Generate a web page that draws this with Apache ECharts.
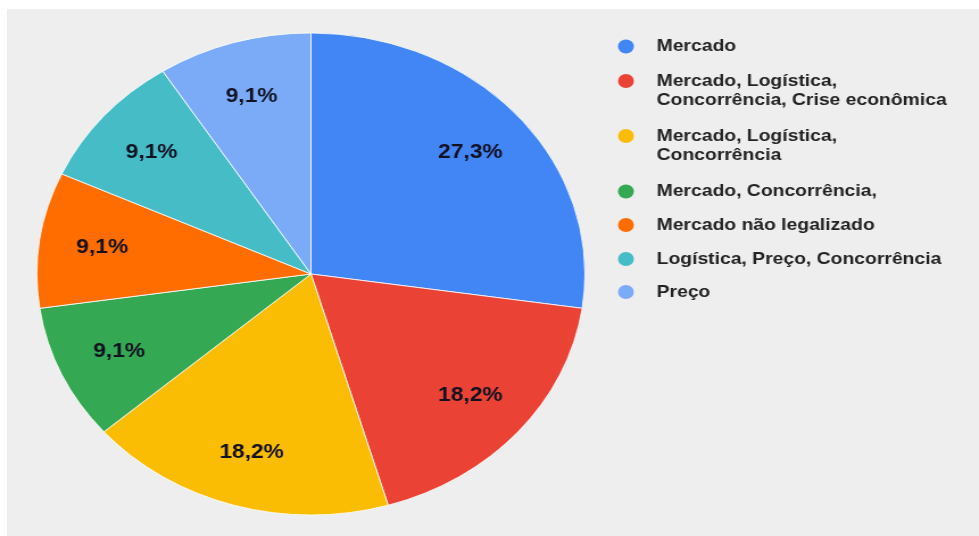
<!DOCTYPE html>
<html><head><meta charset="utf-8">
<script src="https://cdn.jsdelivr.net/npm/echarts@6/dist/echarts.min.js"></script>
<style>
html,body{margin:0;padding:0;background:#ffffff;width:979px;height:536px;overflow:hidden;}
#bg{position:absolute;left:7px;top:9px;width:972px;height:527px;background:#eeeeee;}
#chart{position:absolute;left:0;top:0;width:861px;height:536px;transform:scaleX(1.137);transform-origin:0 0;}
</style></head>
<body><div id="bg"></div><div id="chart"></div>
<script>
const categories = [
  'Mercado',
  'Mercado, Logística,\nConcorrência, Crise econômica',
  'Mercado, Logística,\nConcorrência',
  'Mercado, Concorrência,',
  'Mercado não legalizado',
  'Logística, Preço, Concorrência',
  'Preço'
];
const values = [3, 2, 2, 1, 1, 1, 1];
const colors = ['#4285F4', '#EA4335', '#FBBC04', '#34A853', '#FF6D01', '#46BDC6', '#7BAAF7'];
const legendCenters = [46.5, 81, 136, 191.5, 225, 259, 292];

const chart = echarts.init(document.getElementById('chart'), null, {renderer: 'canvas'});
const pieData = categories.map((c, i) => ({name: c, value: values[i], itemStyle: {color: colors[i]}}));
const labelData = categories.map((c, i) => ({name: c, value: values[i]}));

const ICON = 14, LINE_H = 19;
const legends = categories.map((c, i) => {
  const twoLines = c.indexOf('\n') >= 0;
  const nLines = twoLines ? 3 : 1;
  const blockH = Math.max(ICON, nLines * LINE_H);
  return {
    left: 543.5,
    top: legendCenters[i] - blockH / 2,
    padding: 0,
    orient: 'vertical',
    icon: 'circle',
    itemWidth: ICON,
    itemHeight: ICON,
    itemStyle: {borderWidth: 0},
    selectedMode: false,
    data: [c],
    formatter: name => (twoLines ? '\n' + name : name),
    textStyle: {
      fontFamily: 'Liberation Sans, Arial, sans-serif',
      fontWeight: 'bold',
      fontSize: 17,
      color: '#222222',
      lineHeight: LINE_H,
      padding: [0, 0, 0, 15]
    }
  };
});

chart.setOption({
  animation: false,
  backgroundColor: 'transparent',
  legend: legends,
  series: [
    {
      type: 'pie',
      center: [273.5, 274],
      radius: [0, 241],
      startAngle: 90,
      clockwise: true,
      silent: true,
      label: {show: false},
      labelLine: {show: false},
      itemStyle: {borderColor: '#ffffff', borderWidth: 0.8},
      data: pieData
    },
    {
      type: 'pie',
      center: [273.5, 274],
      radius: [124, 241],
      startAngle: 90,
      clockwise: true,
      silent: true,
      itemStyle: {color: 'rgba(0,0,0,0)'},
      labelLine: {show: false},
      label: {
        show: true,
        position: 'inside',
        fontFamily: 'Liberation Sans, Arial, sans-serif',
        fontWeight: 'bold',
        fontSize: 20,
        color: '#111122',
        formatter: p => p.percent.toFixed(1).replace('.', ',') + '%'
      },
      data: labelData
    }
  ]
});
</script>
</body></html>
